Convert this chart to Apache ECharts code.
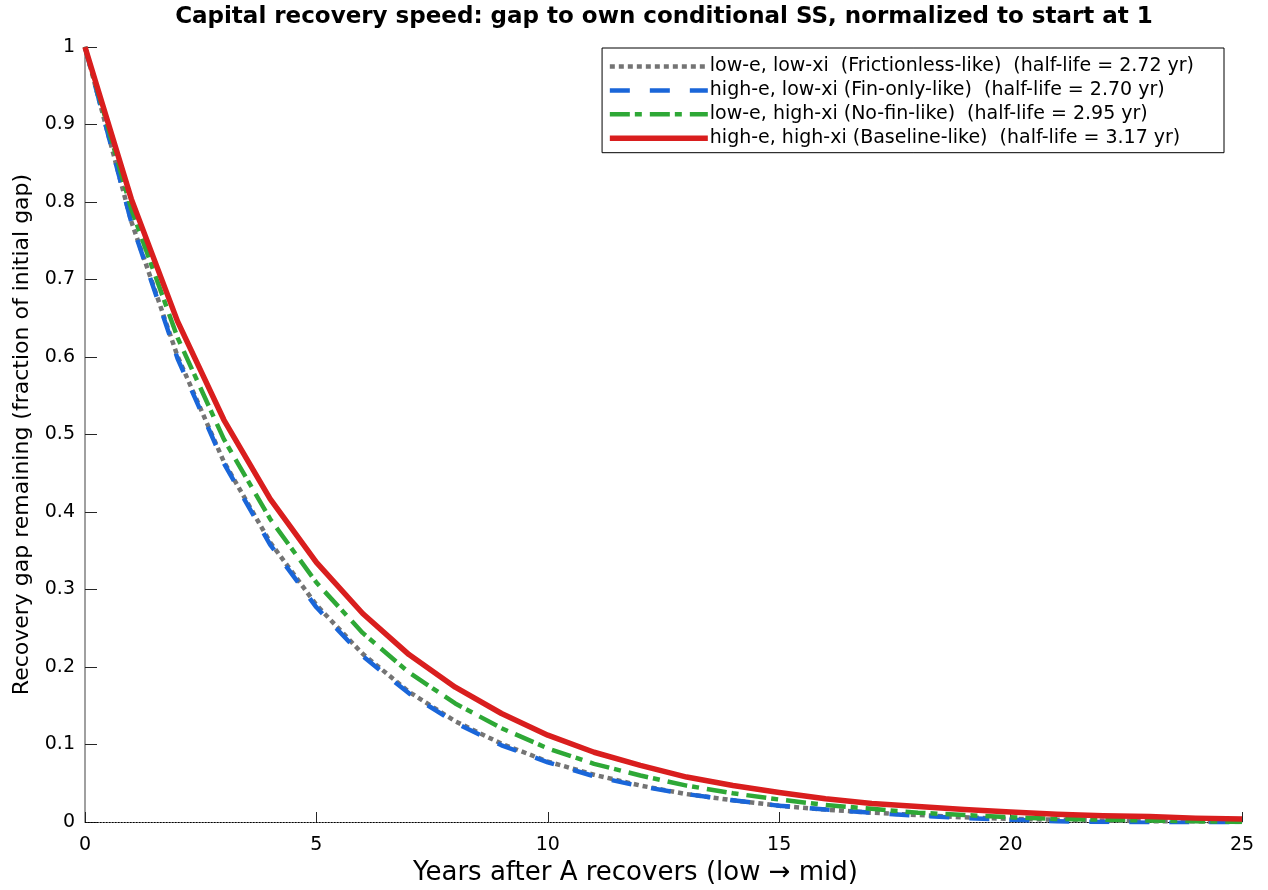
<!DOCTYPE html>
<html>
<head>
<meta charset="utf-8">
<title>Capital recovery speed</title>
<script src="https://cdn.jsdelivr.net/npm/echarts@6/dist/echarts.min.js"></script>
<style>
  html, body { margin: 0; padding: 0; background: #fff; }
  #chart { width: 1268px; height: 890px; }
</style>
</head>
<body>
<div id="chart"></div>
<script>
// Years after the productivity recovery
const years = [0, 1, 2, 3, 4, 5, 6, 7, 8, 9, 10, 11, 12, 13, 14, 15, 16, 17, 18, 19, 20, 21, 22, 23, 24, 25];

// Remaining gap to each economy's own conditional steady state (start = 1)
const gapLowELowXi = [1, 0.775, 0.601, 0.465, 0.361, 0.280, 0.217, 0.168, 0.130, 0.101, 0.078, 0.061, 0.047,
  0.036, 0.028, 0.021, 0.016, 0.012, 0.009, 0.006, 0.004, 0.003, 0.002, 0.001, 0.001, 0.000];
const gapHighELowXi = [1, 0.774, 0.598, 0.463, 0.358, 0.277, 0.214, 0.166, 0.128, 0.099, 0.077, 0.059, 0.046,
  0.036, 0.028, 0.021, 0.016, 0.012, 0.008, 0.005, 0.003, 0.001, 0.000, -0.001, -0.001, -0.001];
const gapLowEHighXi = [1, 0.791, 0.625, 0.494, 0.391, 0.309, 0.244, 0.193, 0.153, 0.121, 0.095, 0.075, 0.060,
  0.047, 0.037, 0.029, 0.022, 0.017, 0.012, 0.009, 0.006, 0.004, 0.003, 0.002, 0.001, 0.000];
const gapHighEHighXi = [1, 0.804, 0.646, 0.519, 0.417, 0.335, 0.269, 0.216, 0.174, 0.140, 0.112, 0.090, 0.073,
  0.058, 0.047, 0.038, 0.030, 0.024, 0.020, 0.016, 0.013, 0.010, 0.008, 0.007, 0.005, 0.004];

const seriesNames = [
  'low-e, low-xi  (Frictionless-like)  (half-life = 2.72 yr)',
  'high-e, low-xi (Fin-only-like)  (half-life = 2.70 yr)',
  'low-e, high-xi (No-fin-like)  (half-life = 2.95 yr)',
  'high-e, high-xi (Baseline-like)  (half-life = 3.17 yr)'
];

const titleText = 'Capital recovery speed: gap to own conditional SS, normalized to start at 1';
const xName = 'Years after A recovers (low \u2192 mid)';
const yName = 'Recovery gap remaining (fraction of initial gap)';

const FONT = '"DejaVu Sans", Verdana, sans-serif';

const pairs = (ys) => years.map((x, i) => [x, ys[i]]);

const styles = [
  { color: '#747474', width: 4.5, type: [5, 4] },
  { color: '#1a66d9', width: 4.5, type: [20, 20] },
  { color: '#2ea836', width: 4.5, type: [20, 5, 7, 8] },
  { color: '#d91e1e', width: 5.5, type: 'solid' }
];
const allGaps = [gapLowELowXi, gapHighELowXi, gapLowEHighXi, gapHighEHighXi];

const series = allGaps.map((ys, i) => ({
  name: seriesNames[i],
  type: 'line',
  data: pairs(ys),
  showSymbol: false,
  symbol: 'none',
  smooth: false,
  z: 2 + i,
  color: styles[i].color,
  lineStyle: {
    color: styles[i].color,
    width: styles[i].width,
    type: styles[i].type,
    cap: 'butt',
    join: 'round'
  },
  emphasis: { disabled: true }
}));

// dotted zero reference line
series[0].markLine = {
  silent: true,
  symbol: 'none',
  label: { show: false },
  lineStyle: { color: '#000', type: [1.5, 1.5], width: 1 },
  data: [{ yAxis: 0 }],
  z: 1
};

const legendData = seriesNames.map((name, i) => ({
  name: name,
  itemStyle: { opacity: 0 },
  lineStyle: { color: styles[i].color, width: styles[i].width, type: styles[i].type, cap: 'butt' }
}));

const chart = echarts.init(document.getElementById('chart'), null, { renderer: 'canvas' });
chart.setOption({
  backgroundColor: '#ffffff',
  animation: false,
  textStyle: { fontFamily: FONT },
  title: {
    text: titleText,
    left: 659,
    textAlign: 'center',
    top: 1,
    textStyle: { fontFamily: FONT, fontSize: 23, fontWeight: 'bold', color: '#000' }
  },
  grid: { left: 85, right: 26, top: 47, bottom: 68, containLabel: false, outerBoundsMode: 'none' },
  legend: {
    orient: 'vertical',
    right: 44,
    top: 48,
    itemWidth: 98,
    itemHeight: 20,
    itemGap: 4.9,
    padding: [9, 30, 5, 5],
    backgroundColor: '#fff',
    borderColor: '#000',
    borderWidth: 1,
    borderRadius: 0,
    align: 'left',
    textStyle: { fontFamily: FONT, fontSize: 19, color: '#000', padding: [0, 0, 0, -3] },
    data: legendData
  },
  xAxis: {
    type: 'value',
    min: 0,
    max: 25,
    interval: 5,
    name: xName,
    nameLocation: 'middle',
    nameGap: 35,
    nameTextStyle: { fontFamily: FONT, fontSize: 26, color: '#000', padding: [0, 56, 0, 0] },
    axisLine: { show: true, onZero: false, lineStyle: { color: '#808080', width: 1 } },
    axisTick: { show: true, inside: true, length: 10, lineStyle: { color: '#262626', width: 1 } },
    axisLabel: { fontFamily: FONT, fontSize: 19, color: '#000', margin: 14 },
    splitLine: { show: false }
  },
  yAxis: {
    type: 'value',
    min: 0,
    max: 1,
    interval: 0.1,
    name: yName,
    nameLocation: 'middle',
    nameGap: 52,
    nameTextStyle: { fontFamily: FONT, fontSize: 22, color: '#000' },
    axisLine: { show: true, onZero: false, lineStyle: { color: '#808080', width: 1.5 } },
    axisTick: { show: true, inside: true, length: 12, lineStyle: { color: '#262626', width: 1 } },
    axisLabel: { fontFamily: FONT, fontSize: 19, color: '#000', margin: 10 },
    splitLine: { show: false }
  },
  series: series
});
</script>
</body>
</html>
